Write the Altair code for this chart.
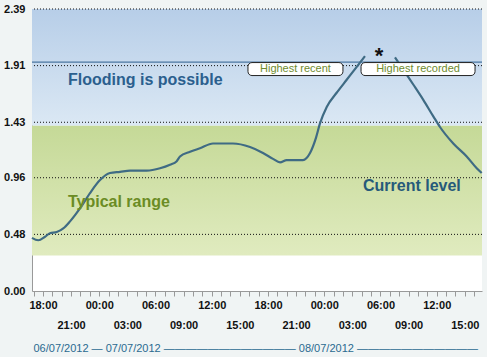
import altair as alt
import pandas as pd

# ---- data (hours since 06/07/2012 00:00, river level in m) ----
hours = [16.83, 17.50, 18.22, 18.75, 19.47, 20.17, 20.89, 21.95, 23.02, 24.09,
         25.15, 26.22, 27.29, 29.07, 30.49, 31.55, 32.27, 32.62, 33.69, 34.75,
         36.14, 38.27, 40.09, 41.47, 42.54, 43.29, 44.00, 45.07, 45.74, 46.49,
         47.13, 47.55, 48.27, 49.33, 50.40, 51.47, 52.35,
         55.55, 57.50, 58.57, 59.64, 60.35, 61.77, 63.20, 64.27, 64.80]
level = [0.45, 0.43, 0.46, 0.49, 0.50, 0.53, 0.59, 0.70, 0.83, 0.94,
         1.00, 1.01, 1.02, 1.02, 1.04, 1.07, 1.10, 1.14, 1.18, 1.21,
         1.25, 1.25, 1.22, 1.17, 1.12, 1.09, 1.11, 1.11, 1.11, 1.17,
         1.30, 1.42, 1.56, 1.68, 1.79, 1.90, 1.99,
         1.98, 1.75, 1.62, 1.48, 1.39, 1.25, 1.14, 1.04, 1.00]
segment = [1] * 37 + [2] * 9

x_start, x_end = 16.833, 64.833
y_ticks = [0.00, 0.48, 0.96, 1.43, 1.91, 2.39]
grid_vals = [0.48, 0.96, 1.43, 1.91, 2.39]
band_typical = (0.30, 1.40)
band_flood = (1.40, 2.39)
highest_recorded = 1.94

box_labels = ["Highest recent", "Highest recorded"]
box_x0 = [39.87, 51.93]
box_x1 = [50.00, 64.09]
box_y0 = [1.826, 1.826]
box_y1 = [1.936, 1.936]

date_title = ("06/07/2012 \u2014 07/07/2012 " + "\u2014" * 12 +
              " 08/07/2012 " + "\u2014" * 11)

FONT = "Liberation Sans"

line_df = pd.DataFrame({"t": hours, "level": level, "seg": segment})

xscale = alt.Scale(domain=[x_start, x_end], nice=False, zero=False)
yscale = alt.Scale(domain=[0, 2.39], nice=False)

label_expr = ("datum.value % 3 != 0 ? '' : (datum.value % 6 == 0 ? "
              "((datum.value % 24 < 10 ? '0' : '') + (datum.value % 24) + ':00') : "
              "['', (datum.value % 24 < 10 ? '0' : '') + (datum.value % 24) + ':00'])")

x_axis = alt.Axis(values=list(range(17, 65)), labelExpr=label_expr,
                  labelOverlap=False, labelFlush=False, labelBound=False,
                  labelFont=FONT, labelFontWeight="bold", labelFontSize=11,
                  labelColor="#111111", labelPadding=3, labelLineHeight=20,
                  labelBaseline="top",
                  tickColor="#999999", tickSize=5, domainColor="#999999",
                  grid=False, title=date_title, titleFont=FONT,
                  titleFontWeight="normal", titleFontSize=11,
                  titleColor="#2a6a90", titleX=1, titleY=57,
                  titleAlign="left", titleBaseline="middle")
y_axis = alt.Axis(values=y_ticks, format=".2f", labelFont=FONT,
                  labelFontWeight="bold", labelFontSize=11,
                  labelColor="#111111", labelPadding=7, ticks=False,
                  labelOverlap=False,
                  domainColor="#999999", grid=False, title=None)


def X(field):
    return alt.X(field, scale=xscale, axis=x_axis)


def Y(field):
    return alt.Y(field, scale=yscale, axis=y_axis)


def band(lo, hi, top, bottom):
    df = pd.DataFrame({"a": [x_start], "b": [x_end], "lo": [lo], "hi": [hi]})
    grad = alt.Gradient(gradient="linear",
                        stops=[alt.GradientStop(color=top, offset=0),
                               alt.GradientStop(color=bottom, offset=1)],
                        x1=0, x2=0, y1=0, y2=1)
    return alt.Chart(df).mark_rect(color=grad).encode(
        x=X("a:Q"), x2="b:Q", y=Y("lo:Q"), y2="hi:Q")


flood = band(*band_flood, "#b7cee8", "#dbe8f4")
typical = band(*band_typical, "#c5d997", "#e0ebbf")

grid = alt.Chart(pd.DataFrame({"v": grid_vals})).mark_rule(
    color="#111111", strokeDash=[1, 2], strokeWidth=1).encode(y=Y("v:Q"))

rec_line = alt.Chart(pd.DataFrame({"v": [highest_recorded]})).mark_rule(
    color="#2d5f8f", strokeWidth=1).encode(y=Y("v:Q"))

level_line = alt.Chart(line_df).mark_line(
    color="#3f6b84", strokeWidth=2.2, interpolate="monotone").encode(
    x=X("t:Q"), y=Y("level:Q"), detail="seg:N")

box_df = pd.DataFrame({"label": box_labels, "x0": box_x0, "x1": box_x1,
                       "y0": box_y0, "y1": box_y1})
box_df["xm"] = (box_df.x0 + box_df.x1) / 2
box_df["ym"] = (box_df.y0 + box_df.y1) / 2
boxes = alt.Chart(box_df).mark_rect(
    fill="white", stroke="#222222", strokeWidth=1, cornerRadius=4).encode(
    x=X("x0:Q"), x2="x1:Q", y=Y("y0:Q"), y2="y1:Q")
box_text = alt.Chart(box_df).mark_text(
    font=FONT, fontSize=11, color="#6e8b2e", baseline="middle",
    align="center").encode(x=X("xm:Q"), y=Y("ym:Q"), text="label:N")

ann_df = pd.DataFrame({
    "text": ["Flooding is possible", "Typical range", "Current level"],
    "t": [20.67, 20.67, 52.14],
    "v": [1.742, 0.708, 0.847],
    "col": ["#2b5f8e", "#6b8c24", "#265a7a"]})
ann = alt.Chart(ann_df).mark_text(
    font=FONT, fontSize=16, fontWeight="bold", align="left",
    baseline="alphabetic").encode(
    x=X("t:Q"), y=Y("v:Q"), text="text:N",
    color=alt.Color("col:N", scale=None))

star = alt.Chart(pd.DataFrame({"t": [53.85], "v": [1.93], "s": ["*"]})).mark_text(
    font=FONT, fontSize=22, fontWeight="bold", color="#111111",
    align="center", baseline="alphabetic").encode(
    x=X("t:Q"), y=Y("v:Q"), text="s:N")

chart = alt.layer(flood, typical, grid, rec_line, level_line, boxes, box_text,
                  ann, star).properties(
    width=450, height=282,
    autosize=alt.AutoSizeParams(type="none"),
    padding={"left": 32, "top": 9, "right": 5, "bottom": 66},
    background="#f0f4f4",
).configure_view(fill="white", stroke=None)

chart.save("out.html", embed_options={"renderer": "svg", "actions": False})
